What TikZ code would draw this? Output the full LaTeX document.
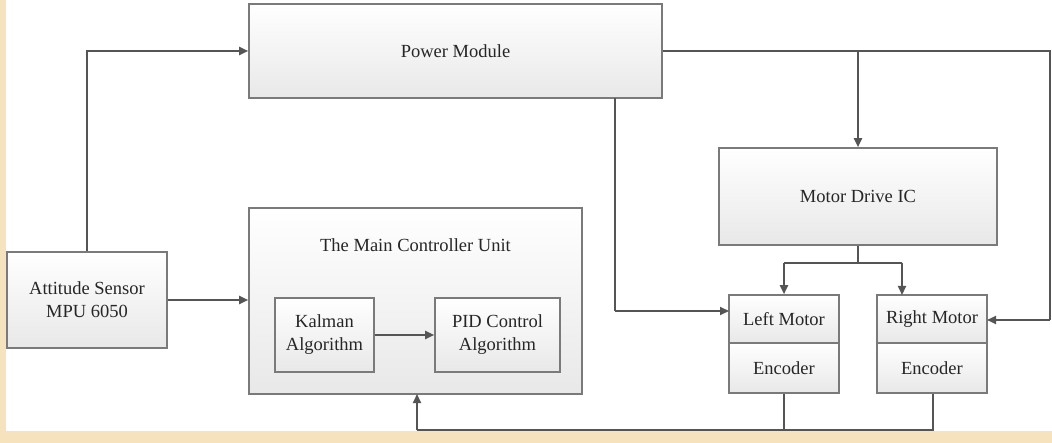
\documentclass[tikz,border=0pt]{standalone}
\usepackage{fontspec}
\setmainfont{Liberation Serif}
\usetikzlibrary{arrows.meta,calc}
\definecolor{beige}{HTML}{F6E2BC}
\definecolor{edge}{HTML}{7A7A7A}
\definecolor{wire}{HTML}{555555}
\definecolor{ink}{HTML}{262626}
\tikzset{
  txt/.style={text=ink,font=\fontsize{18.5}{23}\selectfont},
  blk/.style={txt,draw=edge,line width=1.6pt,top color=white,bottom color=black!9,
    align=center,inner sep=0pt},
  wireline/.style={draw=wire,line width=1.9pt},
  arr/.style={wireline,-{Triangle[length=9pt,width=8pt]}},
}
\begin{document}
\begin{tikzpicture}[x=1pt,y=-1pt]
\useasboundingbox (0,0) rectangle (1052,443);
\fill[beige] (0,0) rectangle (1052,443);
\fill[white] (6,0) rectangle (1052,431);
% blocks
\node[blk,minimum width=413pt,minimum height=94pt] (power) at (455.5,51) {Power Module};
\node[blk,minimum width=160pt,minimum height=96pt] (sensor) at (87,300) {Attitude Sensor\\MPU 6050};
\node[blk,minimum width=333pt,minimum height=186pt] (main) at (415.5,301) {};
\node[txt] (mtitle) at (415.5,245) {The Main Controller Unit};
\node[blk,minimum width=99pt,minimum height=74pt] (kalman) at (324.5,335) {Kalman\\Algorithm};
\node[blk,minimum width=125pt,minimum height=74pt] (pid) at (497.5,335) {PID Control\\Algorithm};
\node[blk,minimum width=278pt,minimum height=97pt] (mdic) at (858,196.5) {Motor Drive IC};
\node[blk,minimum width=110pt,minimum height=48pt] (lm) at (784,319) {Left Motor};
\node[blk,minimum width=110pt,minimum height=50pt] (le) at (784,368) {Encoder};
\node[blk,minimum width=110pt,minimum height=48pt] (rm) at (932,319) {Right Motor};
\node[blk,minimum width=110pt,minimum height=50pt] (re) at (932,368) {Encoder};
% coordinates
\coordinate (pdown) at (615,98);
\coordinate (pturn) at (615,311);
\coordinate (lmin) at (729,311);
\coordinate (rcorner) at (1050,51);
\coordinate (rturn) at (1050,320);
\coordinate (rmin) at (987,320);
\coordinate (split) at (858,263);
\coordinate (lsplit) at (784,263);
\coordinate (rsplit) at (902,263);
\coordinate (rmtop) at (902,295);
\coordinate (lbot) at (784,430);
\coordinate (rbot) at (933,430);
\coordinate (mbot) at (417,430);
\coordinate (mbotin) at (417,394);
\coordinate (branch) at (858,51);
% connectors
\draw[arr] (sensor.north) |- (power.west);
\draw[arr] (sensor.east) -- (sensor.east -| main.west);
\draw[arr] (kalman.east) -- (pid.west);
\draw[wireline] (pdown) -- (pturn);
\draw[arr] (pturn) -- (lmin);
\draw[wireline] (power.east) -- (rcorner) -- (rturn);
\draw[arr] (rturn) -- (rmin);
\draw[arr] (branch) -- (mdic.north);
\draw[wireline] (mdic.south) -- (split);
\draw[wireline] (lsplit) -- (rsplit);
\draw[arr] (lsplit) -- (lm.north);
\draw[arr] (rsplit) -- (rmtop);
\draw[wireline] (le.south) -- (lbot);
\draw[wireline] (re.south -| rbot) -- (rbot) -- (mbot);
\draw[arr] (mbot) -- (mbotin);
\end{tikzpicture}
\end{document}
